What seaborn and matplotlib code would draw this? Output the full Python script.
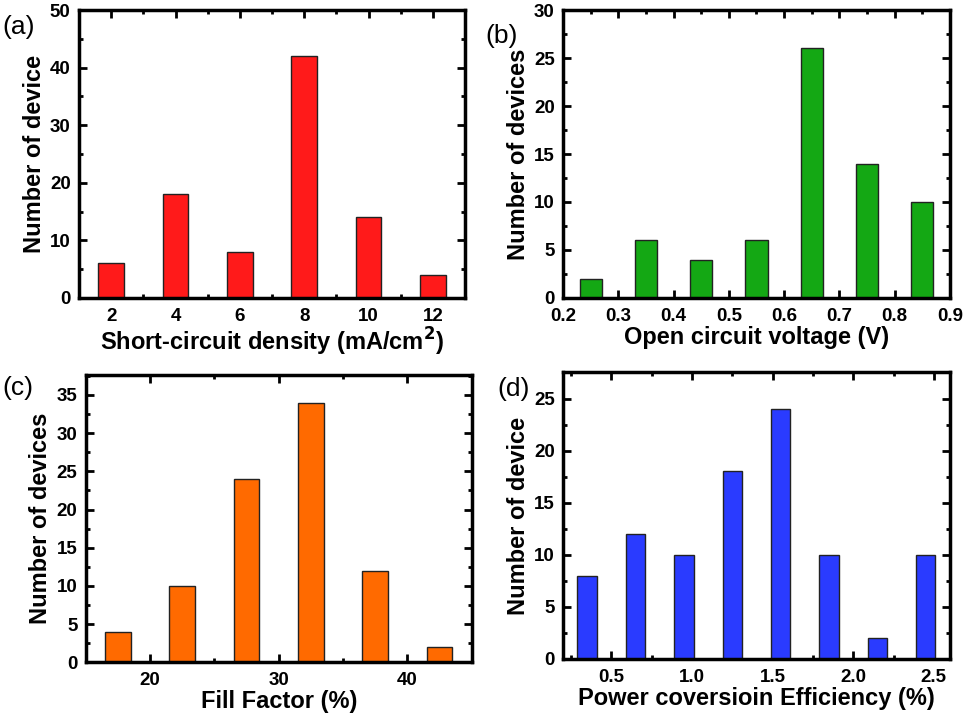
import numpy as np
import pandas as pd
import seaborn as sns
import matplotlib.pyplot as plt
from matplotlib.ticker import MultipleLocator

# data
jsc_bins = [2, 4, 6, 8, 10, 12]
jsc_counts = [6, 18, 8, 42, 14, 4]
voc_bins = [0.25, 0.35, 0.45, 0.55, 0.65, 0.75, 0.85]
voc_counts = [2, 6, 4, 6, 26, 14, 10]
ff_bins = [17.5, 22.5, 27.5, 32.5, 37.5, 42.5]
ff_counts = [4, 10, 24, 34, 12, 2]
pce_bins = [0.35, 0.65, 0.95, 1.25, 1.55, 1.85, 2.15, 2.45]
pce_counts = [8, 12, 10, 18, 24, 10, 2, 10]

sns.set_style("ticks", {'axes.edgecolor': 'black', 'text.color': 'black',
                        'axes.labelcolor': 'black', 'xtick.color': 'black',
                        'ytick.color': 'black'})
plt.rcParams['font.family'] = ['Liberation Sans', 'DejaVu Sans']

fig = plt.figure(figsize=(9.65, 7.18), dpi=100)

panels = [
    dict(pos=[0.0819, 0.585, 0.400, 0.401], x=jsc_bins, y=jsc_counts, color='#FF1A1A',
         xlim=(1, 13), ylim=(0, 50), xmaj=2, xmin=1, ymaj=10, ymin=5,
         xlabel='Short-circuit density (mA/cm$^\\mathbf{2}$)', ylabel='Number of device',
         tag='(a)', tagxy=(0.002, 0.962), xfmt='%d'),
    dict(pos=[0.5834, 0.585, 0.401, 0.401], x=voc_bins, y=voc_counts, color='#14A814',
         xlim=(0.2, 0.9), ylim=(0, 30), xmaj=0.1, xmin=0.05, ymaj=5, ymin=2.5,
         xlabel='Open circuit voltage (V)', ylabel='Number of devices',
         tag='(b)', tagxy=(0.503, 0.950), xfmt='%.1f'),
    dict(pos=[0.0888, 0.0776, 0.400, 0.400], x=ff_bins, y=ff_counts, color='#FF6A00',
         xlim=(15, 45), ylim=(0, 37.6), xmaj=10, xmin=5, ymaj=5, ymin=2.5,
         xlabel='Fill Factor (%)', ylabel='Number of devices',
         tag='(c)', tagxy=(0.002, 0.460), xfmt='%d'),
    dict(pos=[0.5834, 0.0822, 0.401, 0.399], x=pce_bins, y=pce_counts, color='#2A3BFF',
         xlim=(0.2, 2.6), ylim=(0, 27.5), xmaj=0.5, xmin=0.25, ymaj=5, ymin=2.5,
         xlabel='Power coversioin Efficiency (%)', ylabel='Number of device',
         tag='(d)', tagxy=(0.515, 0.458), xfmt='%.1f'),
]

for p in panels:
    ax = fig.add_axes(p['pos'])
    df = pd.DataFrame({'bin': p['x'], 'count': p['y']})
    sns.barplot(data=df, x='bin', y='count', native_scale=True, width=0.4,
                color=p['color'], saturation=1, edgecolor='#222222', linewidth=1, ax=ax)
    ax.set_xlim(*p['xlim'])
    ax.set_ylim(*p['ylim'])
    ax.xaxis.set_major_locator(MultipleLocator(p['xmaj']))
    ax.xaxis.set_minor_locator(MultipleLocator(p['xmin']))
    ax.yaxis.set_major_locator(MultipleLocator(p['ymaj']))
    ax.yaxis.set_minor_locator(MultipleLocator(p['ymin']))
    ax.xaxis.set_major_formatter(plt.FormatStrFormatter(p['xfmt']))
    ax.yaxis.set_major_formatter(plt.FormatStrFormatter('%d'))
    ax.tick_params(which='both', direction='in', top=True, right=True, width=2)
    ax.tick_params(which='major', length=6, labelsize=13.5)
    ax.tick_params(axis='x', which='major', pad=7)
    ax.tick_params(axis='y', which='major', pad=6)
    ax.tick_params(which='minor', length=3)
    for lab in ax.get_xticklabels() + ax.get_yticklabels():
        lab.set_fontweight('bold')
    for s in ax.spines.values():
        s.set_linewidth(2.5)
        s.set_visible(True)
    ax.set_xlabel(p['xlabel'], fontsize=17, fontweight='bold', labelpad=1)
    ax.set_ylabel(p['ylabel'], fontsize=17, fontweight='bold', labelpad=3)
    fig.text(p['tagxy'][0], p['tagxy'][1], p['tag'], fontsize=19, ha='left', va='center')

fig.savefig('out.png', dpi=100)
